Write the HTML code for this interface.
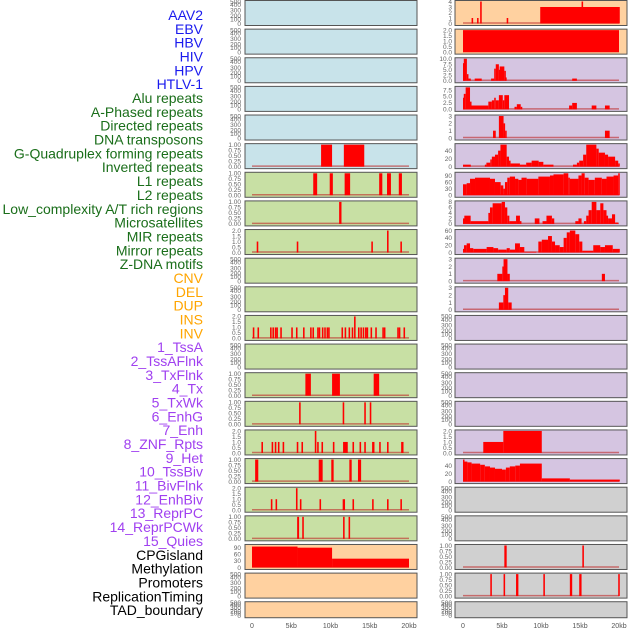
<!DOCTYPE html>
<html><head><meta charset="utf-8">
<style>
html,body{margin:0;padding:0;background:#fff;}
svg{display:block;font-family:"Liberation Sans",sans-serif;}
</style></head>
<body>
<svg id="chart" width="630" height="630" viewBox="0 0 630 630"></svg>
<script>
const labels = ["AAV2","EBV","HBV","HIV","HPV","HTLV-1","Alu repeats","A-Phased repeats","Directed repeats","DNA transposons","G-Quadruplex forming repeats","Inverted repeats","L1 repeats","L2 repeats","Low_complexity A/T rich regions","Microsatellites","MIR repeats","Mirror repeats","Z-DNA motifs","CNV","DEL","DUP","INS","INV","1_TssA","2_TssAFlnk","3_TxFlnk","4_Tx","5_TxWk","6_EnhG","7_Enh","8_ZNF_Rpts","9_Het","10_TssBiv","11_BivFlnk","12_EnhBiv","13_ReprPC","14_ReprPCWk","15_Quies","CPGisland","Methylation","Promoters","ReplicationTiming","TAD_boundary"];
const labelGroups = ["b","b","b","b","b","b","g","g","g","g","g","g","g","g","g","g","g","g","g","o","o","o","o","o","p","p","p","p","p","p","p","p","p","p","p","p","p","p","p","k","k","k","k","k"];
const leftBg = ["blue","blue","blue","blue","blue","blue","green","green","green","green","green","green","green","green","green","green","green","green","green","orange","orange","orange"];
const rightBg = ["orange","orange","purple","purple","purple","purple","purple","purple","purple","purple","purple","purple","purple","purple","purple","purple","purple","gray","gray","gray","gray","gray"];
const leftYMax = [null,null,null,null,null,1,1,1,2,null,null,2,null,1,1,2,1,2,1,100,null,null];
const rightYMax = [4,2,10,8.5,3,55,100,8,60,3,3,null,null,null,null,2,55,null,null,1,1,null];
const xTicks = [0,5,10,15,20];
const xTickLabels = ["0","5kb","10kb","15kb","20kb"];
const emptyTickLabels = ["0","100","200","300","400","500"];
const t01 = [[0,"0.00"],[0.25,"0.25"],[0.5,"0.50"],[0.75,"0.75"],[1,"1.00"]];
const t02 = [[0,"0.0"],[0.5,"0.5"],[1,"1.0"],[1.5,"1.5"],[2,"2.0"]];
const t03 = [[0,"0"],[1,"1"],[2,"2"],[3,"3"]];
const leftTicks = [null,null,null,null,null,t01,t01,t01,t02,null,null,t02,null,t01,t01,t02,t01,t02,t01,[[0,"0"],[30,"30"],[60,"60"],[90,"90"]],null,null];
const rightTicks = [[[0,"0"],[1,"1"],[2,"2"],[3,"3"],[4,"4"]],t02,[[0,"0.0"],[2.5,"2.5"],[5,"5.0"],[7.5,"7.5"],[10,"10.0"]],[[0,"0.0"],[2.5,"2.5"],[5,"5.0"],[7.5,"7.5"]],t03,[[0,"0"],[20,"20"],[40,"40"]],[[0,"0"],[30,"30"],[60,"60"],[90,"90"]],[[0,"0"],[2,"2"],[4,"4"],[6,"6"],[8,"8"]],[[0,"0"],[20,"20"],[40,"40"],[60,"60"]],t03,t03,null,null,null,null,t02,[[0,"0"],[20,"20"],[40,"40"]],null,null,t01,t01,null];
const leftData = [[],[],[],[],[],
 [[8.8,10.2,1],[11.7,14.3,1]],
 [[7.8,8.3,1],[9.9,10.3,1],[11.8,12.5,1],[16.2,16.6,1],[17.2,17.7,1],[18.7,19.1,1]],
 [[11.1,11.4,1]],
 [[0.6,0.8,1],[5.7,5.9,1],[15.2,15.4,1],[17.2,17.4,2],[18.9,19.1,1]],
 [],[],
 [[0.1,0.3,1],[0.7,0.9,1],[2.3,2.5,1],[2.6,2.8,1],[2.9,3.1,1],[3.1,3.3,1],[3.6,3.8,1],[5.0,5.2,1],[5.6,5.8,1],[6.5,6.7,1],[7.4,7.6,1],[7.7,7.9,1],[8.3,8.5,1],[8.5,8.7,1],[8.9,9.1,1],[9.2,9.4,1],[9.5,9.7,1],[9.7,9.9,1],[11.4,11.6,1],[11.8,12.0,1],[12.3,12.5,1],[12.7,12.9,1],[13.0,13.2,2],[13.5,13.7,1],[13.8,14.0,1],[14.1,14.3,1],[14.4,14.6,1],[14.6,14.8,1],[15.1,15.3,1],[15.7,15.9,1],[16.6,16.8,1],[16.8,17.0,1],[18.5,18.7,1],[18.7,18.9,1],[19.3,19.5,1]],
 [],
 [[6.8,7.5,1],[10.2,11.2,1],[15.5,16.2,1]],
 [[6.0,6.2,1],[11.55,11.75,1],[14.3,14.5,1],[15.0,15.2,1]],
 [[1.2,1.4,1],[2.5,2.7,1],[2.9,3.1,1],[3.3,3.5,1],[3.9,4.1,1],[5.7,5.9,1],[6.3,6.5,1],[8.0,8.2,2],[8.3,8.5,1],[8.85,9.05,1],[10.3,10.5,1],[11.6,12.2,1],[12.8,13.0,1],[13.7,13.9,1],[14.3,14.5,1],[15.3,15.6,1],[16.2,16.4,1],[17.2,17.4,1],[19.0,19.3,1]],
 [[0.4,0.8,1],[8.5,9.0,1],[10.1,10.4,1],[12.4,12.7,1],[13.5,13.9,1]],
 [[2.4,2.6,1],[3.0,3.2,1],[5.6,5.8,2],[6.1,6.3,1],[8.6,8.8,1],[11.55,11.85,1],[12.8,13.0,1],[15.3,15.5,1],[17.2,17.4,1],[18.9,19.1,1]],
 [[5.75,6.0,1],[6.4,6.6,1],[11.6,11.8,1],[12.3,12.5,1]],
 [[0,5.8,95],[5.8,10.2,90],[10.2,20,40]],
 [],[]];
const rightData = [
 [[1.1,1.3,1],[1.8,2.0,1],[2.2,2.4,4],[5.6,5.8,1],[9.9,20.1,3],[15.2,15.4,4]],
 [[0,20,2]],
 [[0,0.1,8],[0.1,0.5,10],[0.5,0.7,3],[0.7,1.0,1],[1.5,2.4,1],[3.6,4.0,1],[4.0,4.2,5.5],[4.2,4.6,7.5],[4.6,4.7,5],[4.7,5.3,6.5],[5.3,5.4,4.5],[5.4,5.6,1.5],[14.0,14.6,1]],
 [[0,0.1,4.5],[0.1,0.34,6],[0.34,0.9,8.5],[0.9,1.03,3],[1.03,3.25,1.5],[3.25,3.7,3],[3.7,4.0,3.5],[4.0,4.2,4.5],[4.2,4.6,3.5],[4.6,5.1,5.5],[5.1,5.3,3.5],[5.3,5.9,5.5],[6.6,6.9,1],[6.9,7.4,2],[7.4,7.6,1],[13.6,14.0,1.5],[14.0,14.6,2.5],[16.5,17.1,1.5],[18.2,18.8,1.5]],
 [[3.85,4.2,1],[4.6,5.2,3],[5.2,5.4,2],[5.4,5.6,1],[18.2,18.8,1]],
 [[0,1.0,5],[2.8,3.0,5],[3.0,3.5,10],[3.5,3.7,18],[3.7,4.1,25],[4.1,4.5,30],[4.5,4.8,40],[4.8,5.6,55],[5.6,5.9,25],[5.9,6.1,15],[6.1,7.3,8],[7.3,8.1,5],[8.1,8.8,10],[8.8,9.7,15],[9.7,10.3,12],[10.3,11.6,5],[14.1,14.6,5],[14.6,14.9,10],[14.9,15.4,15],[15.4,15.8,30],[15.8,17.1,55],[17.1,17.4,45],[17.4,18.2,35],[18.2,18.6,30],[18.6,19.5,25],[19.5,19.9,15],[19.9,20.1,8]],
 [[0,0.47,50],[0.47,0.9,55],[0.9,1.54,75],[1.54,3.46,80],[3.46,4.1,75],[4.1,4.83,60],[4.83,5.17,45],[5.17,5.38,30],[5.38,5.68,60],[5.68,6.0,80],[6.0,6.67,85],[6.67,7.1,75],[7.1,7.5,70],[7.5,8.16,80],[8.16,9.66,75],[9.66,11.15,85],[11.15,11.6,90],[11.6,12.9,95],[12.9,13.5,100],[13.5,13.7,80],[13.7,14.8,75],[14.8,15.2,90],[15.2,15.6,100],[15.6,16.1,80],[16.1,16.9,70],[16.9,17.8,80],[17.8,18.4,75],[18.4,19.3,85],[19.3,19.9,90],[19.9,20.1,100]],
 [[0,0.17,2],[0.17,0.98,3],[0.98,3.25,1],[3.25,3.46,4],[3.46,3.8,6],[3.8,4.96,7.5],[4.96,5.38,8],[5.38,5.68,6],[5.68,5.94,3],[5.94,6.8,1],[6.8,7.3,3],[7.3,7.4,1],[9.2,9.8,2],[10.2,10.7,1],[10.7,11.4,3],[11.4,11.7,2],[14.4,14.8,1],[14.8,15.2,2],[15.5,15.8,1],[15.8,16.1,3],[16.1,16.5,5],[16.5,17.1,8],[17.1,17.6,5],[17.6,18.0,7.5],[18.0,18.4,5],[18.4,18.6,3],[18.6,19.1,2],[19.1,19.5,3.5],[19.5,19.9,0.5]],
 [[0,0.13,10],[0.13,0.47,20],[0.47,0.9,25],[0.9,1.32,12],[1.32,3.03,10],[3.03,3.9,15],[3.9,4.5,12],[4.5,5.6,8],[5.6,6.0,12],[6.0,6.67,8],[6.67,7.3,25],[7.3,7.86,15],[7.86,9.4,2],[9.66,10.1,30],[10.1,10.9,35],[10.9,11.4,45],[11.4,11.8,30],[11.8,12.4,20],[12.4,12.9,15],[12.9,13.3,40],[13.3,13.7,55],[13.7,14.4,60],[14.4,14.9,50],[14.9,15.3,30],[15.3,16.7,5],[16.7,17.6,20],[17.6,18.2,15],[18.2,19.2,20],[19.2,20.1,10]],
 [[4.4,5.04,1],[5.04,5.2,2],[5.2,5.7,3],[5.7,6.0,1],[17.8,18.2,1]],
 [[4.6,5.17,1],[5.17,5.38,2],[5.38,5.8,3],[5.8,6.24,1]],
 [],[],[],[],
 [[2.6,5.17,1],[5.17,10.1,2]],
 [[0,0.17,55],[0.17,0.56,50],[0.56,1.1,48],[1.1,2.2,45],[2.2,2.8,42],[2.8,3.46,38],[3.46,4.1,35],[4.1,5.0,32],[5.0,5.5,30],[5.5,6.0,35],[6.0,6.7,38],[6.7,7.3,40],[7.3,10.1,45],[10.1,13.7,8],[13.7,20.1,5]],
 [],[],
 [[5.3,5.6,1],[15.3,15.5,1]],
 [[3.5,3.7,1],[5.2,5.4,1],[6.8,7.1,1],[10.3,10.5,1],[13.7,14.0,1],[14.9,15.2,1],[19.9,20.1,1]],
 []];

const NS = "http://www.w3.org/2000/svg";
const svg = document.getElementById("chart");
const groupColor = {b:"#1a1aee", g:"#1a6e1a", o:"#ffa500", p:"#a040f0", k:"#000000"};
const bgColor = {blue:"#c8e3ea", green:"#c8e0a4", orange:"#ffd1a0", purple:"#d5c5e1", gray:"#d0d0d0"};
const ROW_PITCH = 28.63;
const emptyFrac = [0,0.2,0.36,0.6,0.86,1];

function mk(tag, attrs){ const e=document.createElementNS(NS,tag); for(const k in attrs) e.setAttribute(k,attrs[k]); svg.appendChild(e); return e; }

labels.forEach((t,i)=>{
  const e = mk("text",{x:203,y:15+13.84*i+5,"text-anchor":"end","font-size":"14",fill:groupColor[labelGroups[i]]});
  e.textContent=t;
  
  
});

function xScale(side){ const x0 = side===0?252:463; const x1 = side===0?409:619; return v=>x0+(x1-x0)*v/20; }

function drawPanel(side,i){
  const px = side===0?245:455, pw=172;
  const top = i*ROW_PITCH, ph = (i===21)?16:25;
  const bg = side===0?leftBg[i]:rightBg[i];
  const r = mk("rect",{x:px,y:top+0.5,width:pw,height:ph,fill:bgColor[bg],stroke:"#555","stroke-width":"1"});
  
  
  const yTop = top+1.5, yBot = top+ph-1.5;
  const ymax = side===0?leftYMax[i]:rightYMax[i];
  const ticks = side===0?leftTicks[i]:rightTicks[i];
  const tx = side===0?241:452;
  const xs = xScale(side);
  if(ymax===null){
    emptyTickLabels.forEach((lab,k)=>{
      const e=mk("text",{x:tx,y:yBot-(yBot-yTop)*emptyFrac[k]+2.3,"text-anchor":"end","font-size":"6.5",fill:"#666"});
      e.textContent=lab;
      
      
    });
    return;
  }
  const ys = v=>yBot-(yBot-yTop)*v/ymax;
  ticks.forEach(([v,lab])=>{
    const e=mk("text",{x:tx,y:ys(v)+2.3,"text-anchor":"end","font-size":"6.5",fill:"#666"});
    e.textContent=lab;
    
    
  });
  const base = mk("line",{x1:xs(0),x2:xs(20),y1:yBot-0.5,y2:yBot-0.5,stroke:"rgba(190,40,40,0.6)","stroke-width":1.5});
  
  
  const data = side===0?leftData[i]:rightData[i];
  data.forEach(([a,b,v])=>{
    const x1=xs(a), x2=xs(b);
    const bar = mk("rect",{x:x1,y:ys(v),width:Math.max(1.5,x2-x1),height:yBot-ys(v),fill:"#ff0000"});
    
    
  });
}
for(let i=0;i<22;i++){ drawPanel(0,i); drawPanel(1,i); }

[0,1].forEach(side=>{
  const xs=xScale(side);
  xTicks.forEach((v,k)=>{
    const e=mk("text",{x:xs(v),y:628,"text-anchor":"middle","font-size":"7",fill:"#555"});
    e.textContent=xTickLabels[k];
    
    
  });
});
</script>
</body></html>
